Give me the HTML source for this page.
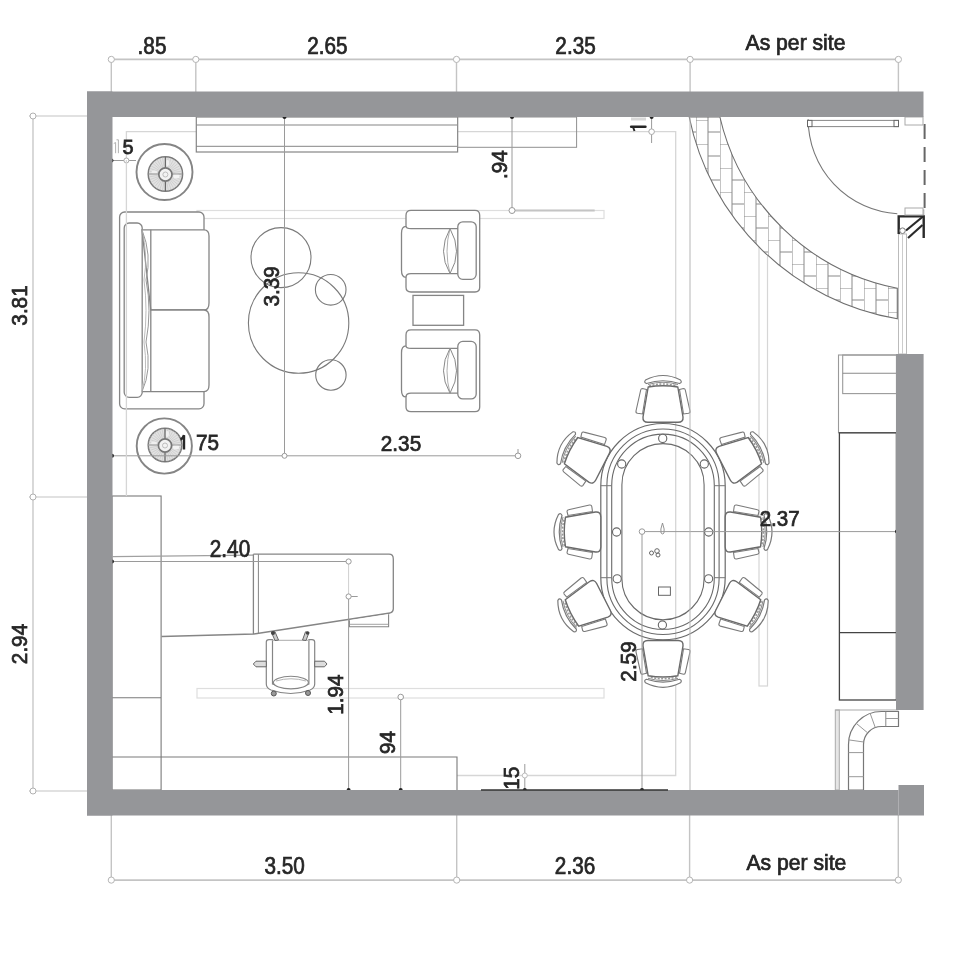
<!DOCTYPE html><html><head><meta charset="utf-8"><style>html,body{margin:0;padding:0;background:#fff;width:958px;height:958px;overflow:hidden}svg{display:block;font-family:"Liberation Sans",sans-serif;filter:blur(0.4px)}</style></head><body><svg width="958" height="958" viewBox="0 0 958 958"><g><rect x="197" y="210.5" width="407" height="8" fill="none" stroke="#dedede" stroke-width="1.2"/><rect x="197" y="688.5" width="407" height="9.5" fill="none" stroke="#dedede" stroke-width="1.2"/><polyline points="126.4,160 126.4,131.7 675.7,131.7 675.7,775.5 457,775.5" fill="none" stroke="#d6d6d6" stroke-width="1.3"/><rect x="759" y="240" width="8.5" height="446" fill="none" stroke="#d6d6d6" stroke-width="1.2"/></g><g><line x1="111.3" y1="59.4" x2="898.4" y2="59.4" stroke="#c4c4c4" stroke-width="1.6"/><line x1="111.3" y1="59.4" x2="111.3" y2="92" stroke="#c4c4c4" stroke-width="1.4"/><line x1="195.8" y1="59.4" x2="195.8" y2="92" stroke="#c4c4c4" stroke-width="1.4"/><line x1="456.5" y1="59.4" x2="456.5" y2="92" stroke="#c4c4c4" stroke-width="1.4"/><line x1="690.1" y1="59.4" x2="690.1" y2="92" stroke="#c4c4c4" stroke-width="1.4"/><line x1="898.4" y1="59.4" x2="898.4" y2="92" stroke="#c4c4c4" stroke-width="1.4"/><circle cx="111.3" cy="59.4" r="3.1" fill="#fff" stroke="#b4b4b4" stroke-width="1"/><circle cx="195.8" cy="59.4" r="3.1" fill="#fff" stroke="#b4b4b4" stroke-width="1"/><circle cx="456.5" cy="59.4" r="3.1" fill="#fff" stroke="#b4b4b4" stroke-width="1"/><circle cx="690.1" cy="59.4" r="3.1" fill="#fff" stroke="#b4b4b4" stroke-width="1"/><circle cx="898.4" cy="59.4" r="3.1" fill="#fff" stroke="#b4b4b4" stroke-width="1"/><line x1="111.3" y1="880.1" x2="898.3" y2="880.1" stroke="#c4c4c4" stroke-width="1.6"/><line x1="111.3" y1="815" x2="111.3" y2="880.1" stroke="#c4c4c4" stroke-width="1.4"/><line x1="456.7" y1="815" x2="456.7" y2="880.1" stroke="#c4c4c4" stroke-width="1.4"/><line x1="689.6" y1="815" x2="689.6" y2="880.1" stroke="#c4c4c4" stroke-width="1.4"/><line x1="898.3" y1="815" x2="898.3" y2="880.1" stroke="#c4c4c4" stroke-width="1.4"/><circle cx="111.3" cy="880.1" r="3.1" fill="#fff" stroke="#b4b4b4" stroke-width="1"/><circle cx="456.7" cy="880.1" r="3.1" fill="#fff" stroke="#b4b4b4" stroke-width="1"/><circle cx="689.6" cy="880.1" r="3.1" fill="#fff" stroke="#b4b4b4" stroke-width="1"/><circle cx="898.3" cy="880.1" r="3.1" fill="#fff" stroke="#b4b4b4" stroke-width="1"/><line x1="33" y1="116" x2="33" y2="792" stroke="#c4c4c4" stroke-width="1.3"/><line x1="29" y1="116" x2="88" y2="116" stroke="#c4c4c4" stroke-width="1.2"/><circle cx="33" cy="116" r="3" fill="#fff" stroke="#b0b0b0" stroke-width="1"/><line x1="29" y1="497" x2="88" y2="497" stroke="#c4c4c4" stroke-width="1.2"/><circle cx="33" cy="497" r="3" fill="#fff" stroke="#b0b0b0" stroke-width="1"/><line x1="29" y1="791" x2="88" y2="791" stroke="#c4c4c4" stroke-width="1.2"/><circle cx="33" cy="791" r="3" fill="#fff" stroke="#b0b0b0" stroke-width="1"/></g><g><rect x="196.3" y="117" width="261.3" height="35" fill="#fff" stroke="#858585" stroke-width="1.2"/><line x1="196.3" y1="125" x2="457.6" y2="125" stroke="#858585" stroke-width="1"/><line x1="196.3" y1="146.3" x2="457.6" y2="146.3" stroke="#858585" stroke-width="1"/><rect x="457.6" y="117" width="119" height="30.3" fill="none" stroke="#909090" stroke-width="1"/><circle cx="164.5" cy="172" r="28" fill="#fff" stroke="#858585" stroke-width="1.9"/><circle cx="165.4" cy="174" r="17.2" fill="#e2e2e2" stroke="#7a7a7a" stroke-width="1.5"/><line x1="172.9" y1="174.0" x2="181.9" y2="174.0" stroke="#c8c8c8" stroke-width="0.7"/><line x1="172.8" y1="175.3" x2="181.6" y2="176.9" stroke="#c8c8c8" stroke-width="0.7"/><line x1="172.4" y1="176.6" x2="180.9" y2="179.6" stroke="#c8c8c8" stroke-width="0.7"/><line x1="171.9" y1="177.8" x2="179.7" y2="182.2" stroke="#c8c8c8" stroke-width="0.7"/><line x1="171.1" y1="178.8" x2="178.0" y2="184.6" stroke="#c8c8c8" stroke-width="0.7"/><line x1="170.2" y1="179.7" x2="176.0" y2="186.6" stroke="#c8c8c8" stroke-width="0.7"/><line x1="169.2" y1="180.5" x2="173.7" y2="188.3" stroke="#c8c8c8" stroke-width="0.7"/><line x1="168.0" y1="181.0" x2="171.0" y2="189.5" stroke="#c8c8c8" stroke-width="0.7"/><line x1="166.7" y1="181.4" x2="168.3" y2="190.2" stroke="#c8c8c8" stroke-width="0.7"/><line x1="165.4" y1="181.5" x2="165.4" y2="190.5" stroke="#c8c8c8" stroke-width="0.7"/><line x1="164.1" y1="181.4" x2="162.5" y2="190.2" stroke="#c8c8c8" stroke-width="0.7"/><line x1="162.8" y1="181.0" x2="159.8" y2="189.5" stroke="#c8c8c8" stroke-width="0.7"/><line x1="161.7" y1="180.5" x2="157.2" y2="188.3" stroke="#c8c8c8" stroke-width="0.7"/><line x1="160.6" y1="179.7" x2="154.8" y2="186.6" stroke="#c8c8c8" stroke-width="0.7"/><line x1="159.7" y1="178.8" x2="152.8" y2="184.6" stroke="#c8c8c8" stroke-width="0.7"/><line x1="158.9" y1="177.8" x2="151.1" y2="182.2" stroke="#c8c8c8" stroke-width="0.7"/><line x1="158.4" y1="176.6" x2="149.9" y2="179.6" stroke="#c8c8c8" stroke-width="0.7"/><line x1="158.0" y1="175.3" x2="149.2" y2="176.9" stroke="#c8c8c8" stroke-width="0.7"/><line x1="157.9" y1="174.0" x2="148.9" y2="174.0" stroke="#c8c8c8" stroke-width="0.7"/><line x1="158.0" y1="172.7" x2="149.2" y2="171.1" stroke="#c8c8c8" stroke-width="0.7"/><line x1="158.4" y1="171.4" x2="149.9" y2="168.4" stroke="#c8c8c8" stroke-width="0.7"/><line x1="158.9" y1="170.2" x2="151.1" y2="165.8" stroke="#c8c8c8" stroke-width="0.7"/><line x1="159.7" y1="169.2" x2="152.8" y2="163.4" stroke="#c8c8c8" stroke-width="0.7"/><line x1="160.6" y1="168.3" x2="154.8" y2="161.4" stroke="#c8c8c8" stroke-width="0.7"/><line x1="161.7" y1="167.5" x2="157.2" y2="159.7" stroke="#c8c8c8" stroke-width="0.7"/><line x1="162.8" y1="167.0" x2="159.8" y2="158.5" stroke="#c8c8c8" stroke-width="0.7"/><line x1="164.1" y1="166.6" x2="162.5" y2="157.8" stroke="#c8c8c8" stroke-width="0.7"/><line x1="165.4" y1="166.5" x2="165.4" y2="157.5" stroke="#c8c8c8" stroke-width="0.7"/><line x1="166.7" y1="166.6" x2="168.3" y2="157.8" stroke="#c8c8c8" stroke-width="0.7"/><line x1="168.0" y1="167.0" x2="171.0" y2="158.5" stroke="#c8c8c8" stroke-width="0.7"/><line x1="169.2" y1="167.5" x2="173.7" y2="159.7" stroke="#c8c8c8" stroke-width="0.7"/><line x1="170.2" y1="168.3" x2="176.0" y2="161.4" stroke="#c8c8c8" stroke-width="0.7"/><line x1="171.1" y1="169.2" x2="178.0" y2="163.4" stroke="#c8c8c8" stroke-width="0.7"/><line x1="171.9" y1="170.2" x2="179.7" y2="165.8" stroke="#c8c8c8" stroke-width="0.7"/><line x1="172.4" y1="171.4" x2="180.9" y2="168.4" stroke="#c8c8c8" stroke-width="0.7"/><line x1="172.8" y1="172.7" x2="181.6" y2="171.1" stroke="#c8c8c8" stroke-width="0.7"/><ellipse cx="176.4" cy="176" rx="3.2" ry="2.5" fill="#f4f4f4"/><ellipse cx="167.4" cy="163" rx="2" ry="3" fill="#f0f0f0"/><ellipse cx="154.4" cy="172" rx="3" ry="1.6" fill="#efefef"/><line x1="165.4" y1="157" x2="165.4" y2="191" stroke="#6a6a6a" stroke-width="1.3"/><line x1="148.4" y1="174" x2="182.4" y2="174" stroke="#999" stroke-width="1"/><circle cx="165.4" cy="174.5" r="6.6" fill="#f2f2f2" stroke="#777" stroke-width="1.7"/><circle cx="165.4" cy="174.5" r="2.5" fill="none" stroke="#b0b0b0" stroke-width="0.8"/><circle cx="164.3" cy="446" r="27.6" fill="#fff" stroke="#858585" stroke-width="1.9"/><circle cx="165" cy="445" r="16.8" fill="#e2e2e2" stroke="#7a7a7a" stroke-width="1.5"/><line x1="172.5" y1="445.0" x2="181.5" y2="445.0" stroke="#c8c8c8" stroke-width="0.7"/><line x1="172.4" y1="446.3" x2="181.2" y2="447.9" stroke="#c8c8c8" stroke-width="0.7"/><line x1="172.0" y1="447.6" x2="180.5" y2="450.6" stroke="#c8c8c8" stroke-width="0.7"/><line x1="171.5" y1="448.8" x2="179.3" y2="453.2" stroke="#c8c8c8" stroke-width="0.7"/><line x1="170.7" y1="449.8" x2="177.6" y2="455.6" stroke="#c8c8c8" stroke-width="0.7"/><line x1="169.8" y1="450.7" x2="175.6" y2="457.6" stroke="#c8c8c8" stroke-width="0.7"/><line x1="168.8" y1="451.5" x2="173.2" y2="459.3" stroke="#c8c8c8" stroke-width="0.7"/><line x1="167.6" y1="452.0" x2="170.6" y2="460.5" stroke="#c8c8c8" stroke-width="0.7"/><line x1="166.3" y1="452.4" x2="167.9" y2="461.2" stroke="#c8c8c8" stroke-width="0.7"/><line x1="165.0" y1="452.5" x2="165.0" y2="461.5" stroke="#c8c8c8" stroke-width="0.7"/><line x1="163.7" y1="452.4" x2="162.1" y2="461.2" stroke="#c8c8c8" stroke-width="0.7"/><line x1="162.4" y1="452.0" x2="159.4" y2="460.5" stroke="#c8c8c8" stroke-width="0.7"/><line x1="161.2" y1="451.5" x2="156.8" y2="459.3" stroke="#c8c8c8" stroke-width="0.7"/><line x1="160.2" y1="450.7" x2="154.4" y2="457.6" stroke="#c8c8c8" stroke-width="0.7"/><line x1="159.3" y1="449.8" x2="152.4" y2="455.6" stroke="#c8c8c8" stroke-width="0.7"/><line x1="158.5" y1="448.8" x2="150.7" y2="453.2" stroke="#c8c8c8" stroke-width="0.7"/><line x1="158.0" y1="447.6" x2="149.5" y2="450.6" stroke="#c8c8c8" stroke-width="0.7"/><line x1="157.6" y1="446.3" x2="148.8" y2="447.9" stroke="#c8c8c8" stroke-width="0.7"/><line x1="157.5" y1="445.0" x2="148.5" y2="445.0" stroke="#c8c8c8" stroke-width="0.7"/><line x1="157.6" y1="443.7" x2="148.8" y2="442.1" stroke="#c8c8c8" stroke-width="0.7"/><line x1="158.0" y1="442.4" x2="149.5" y2="439.4" stroke="#c8c8c8" stroke-width="0.7"/><line x1="158.5" y1="441.2" x2="150.7" y2="436.8" stroke="#c8c8c8" stroke-width="0.7"/><line x1="159.3" y1="440.2" x2="152.4" y2="434.4" stroke="#c8c8c8" stroke-width="0.7"/><line x1="160.2" y1="439.3" x2="154.4" y2="432.4" stroke="#c8c8c8" stroke-width="0.7"/><line x1="161.2" y1="438.5" x2="156.8" y2="430.7" stroke="#c8c8c8" stroke-width="0.7"/><line x1="162.4" y1="438.0" x2="159.4" y2="429.5" stroke="#c8c8c8" stroke-width="0.7"/><line x1="163.7" y1="437.6" x2="162.1" y2="428.8" stroke="#c8c8c8" stroke-width="0.7"/><line x1="165.0" y1="437.5" x2="165.0" y2="428.5" stroke="#c8c8c8" stroke-width="0.7"/><line x1="166.3" y1="437.6" x2="167.9" y2="428.8" stroke="#c8c8c8" stroke-width="0.7"/><line x1="167.6" y1="438.0" x2="170.6" y2="429.5" stroke="#c8c8c8" stroke-width="0.7"/><line x1="168.8" y1="438.5" x2="173.2" y2="430.7" stroke="#c8c8c8" stroke-width="0.7"/><line x1="169.8" y1="439.3" x2="175.6" y2="432.4" stroke="#c8c8c8" stroke-width="0.7"/><line x1="170.7" y1="440.2" x2="177.6" y2="434.4" stroke="#c8c8c8" stroke-width="0.7"/><line x1="171.5" y1="441.2" x2="179.3" y2="436.8" stroke="#c8c8c8" stroke-width="0.7"/><line x1="172.0" y1="442.4" x2="180.5" y2="439.4" stroke="#c8c8c8" stroke-width="0.7"/><line x1="172.4" y1="443.7" x2="181.2" y2="442.1" stroke="#c8c8c8" stroke-width="0.7"/><ellipse cx="176" cy="447" rx="3.2" ry="2.5" fill="#f4f4f4"/><ellipse cx="167" cy="434" rx="2" ry="3" fill="#f0f0f0"/><ellipse cx="154" cy="443" rx="3" ry="1.6" fill="#efefef"/><line x1="165" y1="428" x2="165" y2="462" stroke="#6a6a6a" stroke-width="1.3"/><line x1="148" y1="445" x2="182" y2="445" stroke="#999" stroke-width="1"/><circle cx="165" cy="445.5" r="6.6" fill="#f2f2f2" stroke="#777" stroke-width="1.7"/><circle cx="165" cy="445.5" r="2.5" fill="none" stroke="#b0b0b0" stroke-width="0.8"/><rect x="119.6" y="212" width="84.4" height="196.8" rx="5" fill="#fff" stroke="#858585" stroke-width="1.3"/><rect x="124.2" y="223" width="18" height="174.3" rx="5" fill="#fff" stroke="#858585" stroke-width="1.3"/><path d="M142,229.8 L204,229.8 Q209,229.8 209,236 L209,303 Q209,310 204,310 L150.8,310 Z" fill="#fff" stroke="#858585" stroke-width="1.3"/><path d="M150.8,310 L204,310 Q209,310 209,317 L209,385 Q209,391.6 204,391.6 L142,391.6" fill="#fff" stroke="#858585" stroke-width="1.3"/><line x1="150.8" y1="229.8" x2="150.8" y2="391.6" stroke="#858585" stroke-width="1.3"/><path d="M142,229.8 Q152,255 146,280 Q152,310 146,342 Q152,370 142,391.6" fill="none" stroke="#999" stroke-width="1"/><path d="M142,229.8 Q148,255 144,280 Q148,310 144,342 Q148,370 142,391.6" fill="none" stroke="#aaa" stroke-width="0.8"/><circle cx="281" cy="257.6" r="30" fill="none" stroke="#7a7a7a" stroke-width="1.1"/><circle cx="298.6" cy="323" r="50.2" fill="none" stroke="#7a7a7a" stroke-width="1.1"/><circle cx="330.7" cy="289.8" r="15.3" fill="none" stroke="#7a7a7a" stroke-width="1.1"/><circle cx="330.9" cy="375" r="15.2" fill="none" stroke="#7a7a7a" stroke-width="1.1"/><path d="M406,215.3 Q406,210.3 411,210.3 L475,210.3 Q479.7,210.3 479.7,215.3 L479.7,287.3 Q479.7,292.0 475,292.0 L411,292.0 Q406,292.0 406,287.3 L406,277.3 Q401.5,277.3 401.5,270.3 L401.5,233.3 Q401.5,226.3 406,226.3 Z" fill="#fff" stroke="#858585" stroke-width="1.3"/><path d="M406,226.3 Q406,228.70000000000002 411,228.70000000000002 L458,228.70000000000002" fill="none" stroke="#858585" stroke-width="1.3"/><path d="M406,277.3 Q406,273.6 411,273.6 L458,273.6" fill="none" stroke="#858585" stroke-width="1.3"/><rect x="457.8" y="221.8" width="18.4" height="57.5" rx="5" fill="#fff" stroke="#858585" stroke-width="1.3"/><path d="M450,228.70000000000002 Q437,251.3 450,273.6 Q463,251.3 450,228.70000000000002 Z" fill="none" stroke="#888" stroke-width="1"/><path d="M450,228.70000000000002 Q444,251.3 450,273.6" fill="none" stroke="#999" stroke-width="0.8"/><path d="M406,334.9 Q406,329.9 411,329.9 L475,329.9 Q479.7,329.9 479.7,334.9 L479.7,406.9 Q479.7,411.59999999999997 475,411.59999999999997 L411,411.59999999999997 Q406,411.59999999999997 406,406.9 L406,396.9 Q401.5,396.9 401.5,389.9 L401.5,352.9 Q401.5,345.9 406,345.9 Z" fill="#fff" stroke="#858585" stroke-width="1.3"/><path d="M406,345.9 Q406,348.29999999999995 411,348.29999999999995 L458,348.29999999999995" fill="none" stroke="#858585" stroke-width="1.3"/><path d="M406,396.9 Q406,393.2 411,393.2 L458,393.2" fill="none" stroke="#858585" stroke-width="1.3"/><rect x="457.8" y="341.4" width="18.4" height="57.5" rx="5" fill="#fff" stroke="#858585" stroke-width="1.3"/><path d="M450,348.29999999999995 Q437,370.9 450,393.2 Q463,370.9 450,348.29999999999995 Z" fill="none" stroke="#888" stroke-width="1"/><path d="M450,348.29999999999995 Q444,370.9 450,393.2" fill="none" stroke="#999" stroke-width="0.8"/><rect x="413" y="295.4" width="50.6" height="29.9" fill="#fff" stroke="#858585" stroke-width="1.3"/></g><g><rect x="112" y="496" width="49.1" height="294" fill="none" stroke="#7a7a7a" stroke-width="1.1"/><line x1="112" y1="697.8" x2="161" y2="697.8" stroke="#7a7a7a" stroke-width="1.1"/><polyline points="112,757 457,757 457,790" fill="none" stroke="#7a7a7a" stroke-width="1.1"/><path d="M253.4,554.2 L389,554.2 Q393.3,554.2 393.3,559 L393.3,609 Q393.3,612 390,613 L254,634 L161.5,636.5" fill="none" stroke="#858585" stroke-width="1.3"/><line x1="112.5" y1="556.7" x2="253.4" y2="555.2" stroke="#a0a0a0" stroke-width="1.3"/><line x1="253.4" y1="554.2" x2="253.4" y2="634" stroke="#858585" stroke-width="1.3"/><line x1="258.4" y1="554.2" x2="258.4" y2="634" stroke="#858585" stroke-width="1"/><path d="M349.4,620.2 L349.4,626.8 L388.6,626.8 L388.6,614.3" fill="#fff" stroke="#858585" stroke-width="1.1"/><line x1="349.4" y1="624.3" x2="388.6" y2="624.3" stroke="#999" stroke-width="0.9"/><path d="M266.3,642 Q266.3,639.6 269,639.6 L272.5,639.6 L272.5,684 Q290.9,692 308.9,684 L308.9,639.6 L312,639.6 Q314.7,639.6 314.7,642 L314.7,684 Q314.7,688 310,690 Q290.9,697 271,690 Q266.3,688 266.3,684 Z" fill="#fff" stroke="#858585" stroke-width="1.2"/><line x1="272.5" y1="640.3" x2="308.9" y2="640.3" stroke="#bbb" stroke-width="1.2"/><ellipse cx="290.9" cy="682.6" rx="17.5" ry="6.3" fill="#fff" stroke="#858585" stroke-width="1.1"/><path d="M276,681 Q290.9,676.5 306,681" fill="none" stroke="#aaa" stroke-width="0.9"/><path d="M271.5,632.5 L275,631.8 L278.5,640 L275,640.5 Z" fill="#ccc" stroke="#666" stroke-width="1"/><circle cx="273" cy="633" r="2" fill="#444"/><path d="M309,632.5 L305.5,631.8 L302.5,640 L306,640.5 Z" fill="#ccc" stroke="#666" stroke-width="1"/><circle cx="307.6" cy="633" r="1.8" fill="#444"/><path d="M266.3,661.2 L256,661.2 L253.3,664 L256,666.8 L266.3,666.8 Z" fill="#ddd" stroke="#666" stroke-width="1"/><path d="M314.7,661.2 L324.5,661.2 L327,664 L324.5,666.8 L314.7,666.8 Z" fill="#ddd" stroke="#666" stroke-width="1"/><circle cx="273.8" cy="693.5" r="2.5" fill="#999" stroke="#555" stroke-width="1"/><circle cx="308" cy="693" r="2.5" fill="#999" stroke="#555" stroke-width="1"/></g><g><path d="M600.8,485.70000000000005 A62.2,62.2 0 0 1 725.2,485.70000000000005 L725.2,577.7 A62.2,62.2 0 0 1 600.8,577.7 Z" fill="none" stroke="#6a6a6a" stroke-width="1.2"/><path d="M606.9,485.00000000000006 A56.1,56.1 0 0 1 719.1,485.00000000000006 L719.1,578.4 A56.1,56.1 0 0 1 606.9,578.4 Z" fill="none" stroke="#6a6a6a" stroke-width="1.1"/><path d="M611.7,485.40000000000003 A51.3,51.3 0 0 1 714.3,485.40000000000003 L714.3,578.0000000000001 A51.3,51.3 0 0 1 611.7,578.0000000000001 Z" fill="none" stroke="#6a6a6a" stroke-width="1.1"/><path d="M621.9,484.70000000000005 A41.1,41.1 0 0 1 704.1,484.70000000000005 L704.1,578.7 A41.1,41.1 0 0 1 621.9,578.7 Z" fill="none" stroke="#6a6a6a" stroke-width="1.1"/><line x1="600.8" y1="485.7" x2="611.5" y2="485.7" stroke="#777" stroke-width="1"/><line x1="714.1" y1="485.7" x2="725.2" y2="485.7" stroke="#777" stroke-width="1"/><line x1="600.8" y1="577.7" x2="611.5" y2="577.7" stroke="#777" stroke-width="1"/><line x1="714.1" y1="577.7" x2="725.2" y2="577.7" stroke="#777" stroke-width="1"/><circle cx="662.7" cy="438.4" r="4.1" fill="#fff" stroke="#666" stroke-width="1.1"/><circle cx="621.7" cy="464" r="4.1" fill="#fff" stroke="#666" stroke-width="1.1"/><circle cx="704.3" cy="464" r="4.1" fill="#fff" stroke="#666" stroke-width="1.1"/><circle cx="616.6" cy="532" r="4.1" fill="#fff" stroke="#666" stroke-width="1.1"/><circle cx="708.7" cy="532" r="4.1" fill="#fff" stroke="#666" stroke-width="1.1"/><circle cx="617.2" cy="578.8" r="4.1" fill="#fff" stroke="#666" stroke-width="1.1"/><circle cx="708.6" cy="578.8" r="4.1" fill="#fff" stroke="#666" stroke-width="1.1"/><circle cx="662.4" cy="625" r="4.1" fill="#fff" stroke="#666" stroke-width="1.1"/><path d="M662.5,523 Q660,530 661,533 Q663,535 664,533 Q665,530 662.5,523 Z" fill="none" stroke="#888" stroke-width="0.9"/><circle cx="651.5" cy="553" r="2" fill="none" stroke="#666" stroke-width="1"/><circle cx="657" cy="551" r="2.3" fill="none" stroke="#666" stroke-width="1"/><circle cx="658" cy="555" r="2" fill="none" stroke="#666" stroke-width="1"/><rect x="658.5" y="587" width="11.9" height="8.3" fill="none" stroke="#666" stroke-width="1"/><g transform="translate(663,399) rotate(0)"><path d="M-17.5,-19 Q0,-28 17.5,-19 Q19.5,-16.5 16.5,-15.5 Q0,-21 -16.5,-15.5 Q-19.5,-16.5 -17.5,-19 Z" fill="#fff" stroke="#7a7a7a" stroke-width="1.2"/><path d="M-15,-14.5 Q0,-19 15,-14.5" fill="none" stroke="#8a8a8a" stroke-width="1"/><path d="M-14,-13 Q0,-17 14,-13" fill="none" stroke="#999" stroke-width="1.6" stroke-dasharray="2,1.5"/><path d="M-14.8,-12 Q0,-14.5 14.8,-12 L20,18 Q20.5,23.3 15,23.3 L-15,23.3 Q-20.5,23.3 -20,18 Z" fill="#fff" stroke="#6a6a6a" stroke-width="1.4"/><path d="M-16.5,-9.5 L-20.5,-10.5 Q-22,-10.5 -22.3,-9 L-27,12 Q-27.3,14 -25.5,14.3 L-20.5,15 Z" fill="#fff" stroke="#7a7a7a" stroke-width="1.1"/><path d="M16.5,-9.5 L20.5,-10.5 Q22,-10.5 22.3,-9 L27,12 Q27.3,14 25.5,14.3 L20.5,15 Z" fill="#fff" stroke="#7a7a7a" stroke-width="1.1"/></g><g transform="translate(663,663.8) rotate(180)"><path d="M-17.5,-19 Q0,-28 17.5,-19 Q19.5,-16.5 16.5,-15.5 Q0,-21 -16.5,-15.5 Q-19.5,-16.5 -17.5,-19 Z" fill="#fff" stroke="#7a7a7a" stroke-width="1.2"/><path d="M-15,-14.5 Q0,-19 15,-14.5" fill="none" stroke="#8a8a8a" stroke-width="1"/><path d="M-14,-13 Q0,-17 14,-13" fill="none" stroke="#999" stroke-width="1.6" stroke-dasharray="2,1.5"/><path d="M-14.8,-12 Q0,-14.5 14.8,-12 L20,18 Q20.5,23.3 15,23.3 L-15,23.3 Q-20.5,23.3 -20,18 Z" fill="#fff" stroke="#6a6a6a" stroke-width="1.4"/><path d="M-16.5,-9.5 L-20.5,-10.5 Q-22,-10.5 -22.3,-9 L-27,12 Q-27.3,14 -25.5,14.3 L-20.5,15 Z" fill="#fff" stroke="#7a7a7a" stroke-width="1.1"/><path d="M16.5,-9.5 L20.5,-10.5 Q22,-10.5 22.3,-9 L27,12 Q27.3,14 25.5,14.3 L20.5,15 Z" fill="#fff" stroke="#7a7a7a" stroke-width="1.1"/></g><g transform="translate(577.5,532) rotate(-90)"><path d="M-17.5,-19 Q0,-28 17.5,-19 Q19.5,-16.5 16.5,-15.5 Q0,-21 -16.5,-15.5 Q-19.5,-16.5 -17.5,-19 Z" fill="#fff" stroke="#7a7a7a" stroke-width="1.2"/><path d="M-15,-14.5 Q0,-19 15,-14.5" fill="none" stroke="#8a8a8a" stroke-width="1"/><path d="M-14,-13 Q0,-17 14,-13" fill="none" stroke="#999" stroke-width="1.6" stroke-dasharray="2,1.5"/><path d="M-14.8,-12 Q0,-14.5 14.8,-12 L20,18 Q20.5,23.3 15,23.3 L-15,23.3 Q-20.5,23.3 -20,18 Z" fill="#fff" stroke="#6a6a6a" stroke-width="1.4"/><path d="M-16.5,-9.5 L-20.5,-10.5 Q-22,-10.5 -22.3,-9 L-27,12 Q-27.3,14 -25.5,14.3 L-20.5,15 Z" fill="#fff" stroke="#7a7a7a" stroke-width="1.1"/><path d="M16.5,-9.5 L20.5,-10.5 Q22,-10.5 22.3,-9 L27,12 Q27.3,14 25.5,14.3 L20.5,15 Z" fill="#fff" stroke="#7a7a7a" stroke-width="1.1"/></g><g transform="translate(748.5,532) rotate(90)"><path d="M-17.5,-19 Q0,-28 17.5,-19 Q19.5,-16.5 16.5,-15.5 Q0,-21 -16.5,-15.5 Q-19.5,-16.5 -17.5,-19 Z" fill="#fff" stroke="#7a7a7a" stroke-width="1.2"/><path d="M-15,-14.5 Q0,-19 15,-14.5" fill="none" stroke="#8a8a8a" stroke-width="1"/><path d="M-14,-13 Q0,-17 14,-13" fill="none" stroke="#999" stroke-width="1.6" stroke-dasharray="2,1.5"/><path d="M-14.8,-12 Q0,-14.5 14.8,-12 L20,18 Q20.5,23.3 15,23.3 L-15,23.3 Q-20.5,23.3 -20,18 Z" fill="#fff" stroke="#6a6a6a" stroke-width="1.4"/><path d="M-16.5,-9.5 L-20.5,-10.5 Q-22,-10.5 -22.3,-9 L-27,12 Q-27.3,14 -25.5,14.3 L-20.5,15 Z" fill="#fff" stroke="#7a7a7a" stroke-width="1.1"/><path d="M16.5,-9.5 L20.5,-10.5 Q22,-10.5 22.3,-9 L27,12 Q27.3,14 25.5,14.3 L20.5,15 Z" fill="#fff" stroke="#7a7a7a" stroke-width="1.1"/></g><g transform="translate(581.8,456.1) rotate(-63)"><path d="M-17.5,-19 Q0,-28 17.5,-19 Q19.5,-16.5 16.5,-15.5 Q0,-21 -16.5,-15.5 Q-19.5,-16.5 -17.5,-19 Z" fill="#fff" stroke="#7a7a7a" stroke-width="1.2"/><path d="M-15,-14.5 Q0,-19 15,-14.5" fill="none" stroke="#8a8a8a" stroke-width="1"/><path d="M-14,-13 Q0,-17 14,-13" fill="none" stroke="#999" stroke-width="1.6" stroke-dasharray="2,1.5"/><path d="M-14.8,-12 Q0,-14.5 14.8,-12 L20,18 Q20.5,23.3 15,23.3 L-15,23.3 Q-20.5,23.3 -20,18 Z" fill="#fff" stroke="#6a6a6a" stroke-width="1.4"/><path d="M-16.5,-9.5 L-20.5,-10.5 Q-22,-10.5 -22.3,-9 L-27,12 Q-27.3,14 -25.5,14.3 L-20.5,15 Z" fill="#fff" stroke="#7a7a7a" stroke-width="1.1"/><path d="M16.5,-9.5 L20.5,-10.5 Q22,-10.5 22.3,-9 L27,12 Q27.3,14 25.5,14.3 L20.5,15 Z" fill="#fff" stroke="#7a7a7a" stroke-width="1.1"/></g><g transform="translate(744.2,456.1) rotate(63)"><path d="M-17.5,-19 Q0,-28 17.5,-19 Q19.5,-16.5 16.5,-15.5 Q0,-21 -16.5,-15.5 Q-19.5,-16.5 -17.5,-19 Z" fill="#fff" stroke="#7a7a7a" stroke-width="1.2"/><path d="M-15,-14.5 Q0,-19 15,-14.5" fill="none" stroke="#8a8a8a" stroke-width="1"/><path d="M-14,-13 Q0,-17 14,-13" fill="none" stroke="#999" stroke-width="1.6" stroke-dasharray="2,1.5"/><path d="M-14.8,-12 Q0,-14.5 14.8,-12 L20,18 Q20.5,23.3 15,23.3 L-15,23.3 Q-20.5,23.3 -20,18 Z" fill="#fff" stroke="#6a6a6a" stroke-width="1.4"/><path d="M-16.5,-9.5 L-20.5,-10.5 Q-22,-10.5 -22.3,-9 L-27,12 Q-27.3,14 -25.5,14.3 L-20.5,15 Z" fill="#fff" stroke="#7a7a7a" stroke-width="1.1"/><path d="M16.5,-9.5 L20.5,-10.5 Q22,-10.5 22.3,-9 L27,12 Q27.3,14 25.5,14.3 L20.5,15 Z" fill="#fff" stroke="#7a7a7a" stroke-width="1.1"/></g><g transform="translate(582.7,607.5) rotate(-117)"><path d="M-17.5,-19 Q0,-28 17.5,-19 Q19.5,-16.5 16.5,-15.5 Q0,-21 -16.5,-15.5 Q-19.5,-16.5 -17.5,-19 Z" fill="#fff" stroke="#7a7a7a" stroke-width="1.2"/><path d="M-15,-14.5 Q0,-19 15,-14.5" fill="none" stroke="#8a8a8a" stroke-width="1"/><path d="M-14,-13 Q0,-17 14,-13" fill="none" stroke="#999" stroke-width="1.6" stroke-dasharray="2,1.5"/><path d="M-14.8,-12 Q0,-14.5 14.8,-12 L20,18 Q20.5,23.3 15,23.3 L-15,23.3 Q-20.5,23.3 -20,18 Z" fill="#fff" stroke="#6a6a6a" stroke-width="1.4"/><path d="M-16.5,-9.5 L-20.5,-10.5 Q-22,-10.5 -22.3,-9 L-27,12 Q-27.3,14 -25.5,14.3 L-20.5,15 Z" fill="#fff" stroke="#7a7a7a" stroke-width="1.1"/><path d="M16.5,-9.5 L20.5,-10.5 Q22,-10.5 22.3,-9 L27,12 Q27.3,14 25.5,14.3 L20.5,15 Z" fill="#fff" stroke="#7a7a7a" stroke-width="1.1"/></g><g transform="translate(743.3,607.5) rotate(117)"><path d="M-17.5,-19 Q0,-28 17.5,-19 Q19.5,-16.5 16.5,-15.5 Q0,-21 -16.5,-15.5 Q-19.5,-16.5 -17.5,-19 Z" fill="#fff" stroke="#7a7a7a" stroke-width="1.2"/><path d="M-15,-14.5 Q0,-19 15,-14.5" fill="none" stroke="#8a8a8a" stroke-width="1"/><path d="M-14,-13 Q0,-17 14,-13" fill="none" stroke="#999" stroke-width="1.6" stroke-dasharray="2,1.5"/><path d="M-14.8,-12 Q0,-14.5 14.8,-12 L20,18 Q20.5,23.3 15,23.3 L-15,23.3 Q-20.5,23.3 -20,18 Z" fill="#fff" stroke="#6a6a6a" stroke-width="1.4"/><path d="M-16.5,-9.5 L-20.5,-10.5 Q-22,-10.5 -22.3,-9 L-27,12 Q-27.3,14 -25.5,14.3 L-20.5,15 Z" fill="#fff" stroke="#7a7a7a" stroke-width="1.1"/><path d="M16.5,-9.5 L20.5,-10.5 Q22,-10.5 22.3,-9 L27,12 Q27.3,14 25.5,14.3 L20.5,15 Z" fill="#fff" stroke="#7a7a7a" stroke-width="1.1"/></g></g><g><rect x="838.5" y="355" width="58" height="77.8" fill="none" stroke="#9a9a9a" stroke-width="1.1"/><rect x="842.7" y="355" width="53.8" height="38.6" fill="none" stroke="#9a9a9a" stroke-width="1.1"/><line x1="842.7" y1="373.2" x2="896.5" y2="373.2" stroke="#8a8a8a" stroke-width="1.1"/><rect x="839.4" y="432.8" width="57" height="267.2" fill="none" stroke="#444" stroke-width="1.3"/><line x1="839.4" y1="632.7" x2="896.5" y2="632.7" stroke="#444" stroke-width="1.3"/><rect x="835.3" y="710" width="4" height="80" fill="#e6e6e6" stroke="#aaa" stroke-width="1"/><line x1="835.3" y1="710" x2="898.5" y2="710" stroke="#aaa" stroke-width="1.1"/><rect x="898.5" y="234" width="8" height="120" fill="#fff" stroke="#bbb" stroke-width="1"/><line x1="902.5" y1="234" x2="902.5" y2="354" stroke="#ccc" stroke-width="1"/></g><g><defs><pattern id="brick" x="0" y="0" width="24" height="24" patternUnits="userSpaceOnUse"><rect width="24" height="24" fill="#fff"/><path d="M0,0 V24 M12,0 V24 M0,0 H12 M12,12 H24" stroke="#8a8a8a" stroke-width="1"/></pattern><pattern id="brick2" x="0" y="0" width="12" height="24" patternUnits="userSpaceOnUse"><rect width="12" height="24" fill="#fff"/><path d="M0,0 V24 M0,0 H12 M0,12 H12" stroke="#8a8a8a" stroke-width="1"/></pattern></defs><path d="M689.2,117 A257,257 0 0 0 897.3,318.8 L897.3,288.3 A227,227 0 0 1 719.9,117 Z" fill="url(#brick)" stroke="#6e6e6e" stroke-width="1.1"/><path d="M808.2,119.2 A94.5,94.5 0 0 0 897.3,213.7" fill="none" stroke="#777" stroke-width="1.1"/><rect x="807.5" y="120.4" width="91" height="6.2" fill="#fff" stroke="#888" stroke-width="1"/><rect x="807.5" y="120.4" width="4.5" height="6.2" fill="#fff" stroke="#666" stroke-width="1"/><rect x="894" y="120.4" width="4.5" height="6.2" fill="#fff" stroke="#666" stroke-width="1"/><line x1="924.6" y1="124" x2="924.6" y2="214" stroke="#666" stroke-width="2" stroke-dasharray="15,8"/><rect x="906.3" y="210" width="17.5" height="5" fill="#fff" stroke="#aaa" stroke-width="1"/><path d="M898.7,234 L898.7,216.4 L923.7,216.4 L923.7,238" fill="none" stroke="#2a2a2a" stroke-width="2.4"/><line x1="906" y1="230.5" x2="923" y2="216.5" stroke="#2a2a2a" stroke-width="2.2"/><line x1="908" y1="238" x2="922.5" y2="225" stroke="#2a2a2a" stroke-width="2.2"/><circle cx="902.5" cy="230.7" r="2.8" fill="#fff" stroke="#777" stroke-width="1"/><rect x="905" y="117" width="18" height="8" fill="#fff" stroke="#aaa" stroke-width="1"/><rect x="905" y="208" width="18" height="7" fill="#fff" stroke="#aaa" stroke-width="1"/><path d="M848.5,790 L848.5,744.5 A33,33 0 0 1 881.5,711.5 L898.5,711.5 L898.5,726.5 L881.5,726.5 A18,18 0 0 0 863.5,744.5 L863.5,790 Z" fill="#fff" stroke="#777" stroke-width="1.2"/><line x1="848.5" y1="752.6" x2="863.5" y2="752.6" stroke="#999" stroke-width="1"/><line x1="848.5" y1="776.7" x2="863.5" y2="776.7" stroke="#999" stroke-width="1"/><line x1="885.8" y1="711.5" x2="885.8" y2="726.5" stroke="#888" stroke-width="1"/><line x1="885.8" y1="718.5" x2="898.5" y2="718.5" stroke="#999" stroke-width="1"/><line x1="875.3" y1="727.6" x2="870.2" y2="713.5" stroke="#999" stroke-width="1"/><line x1="867.7" y1="732.9" x2="856.2" y2="723.3" stroke="#999" stroke-width="1"/><line x1="863.7" y1="742.0" x2="848.8" y2="739.9" stroke="#999" stroke-width="1"/></g><g><line x1="284.5" y1="117" x2="284.5" y2="455.8" stroke="#9a9a9a" stroke-width="1"/><line x1="112" y1="455.8" x2="518" y2="455.8" stroke="#9a9a9a" stroke-width="1"/><line x1="518" y1="449" x2="518" y2="455.8" stroke="#9a9a9a" stroke-width="1"/><circle cx="518" cy="455.8" r="2.8" fill="#fff" stroke="#999" stroke-width="1"/><circle cx="284.5" cy="455.8" r="2.5" fill="#fff" stroke="#999" stroke-width="1"/><line x1="512" y1="117" x2="512" y2="210.5" stroke="#9a9a9a" stroke-width="1"/><line x1="512" y1="210.5" x2="594.7" y2="210.5" stroke="#c4c4c4" stroke-width="2"/><circle cx="512" cy="210.5" r="3" fill="#fff" stroke="#999" stroke-width="1"/><line x1="651.6" y1="117" x2="651.6" y2="143" stroke="#9a9a9a" stroke-width="1"/><circle cx="651.6" cy="131.7" r="2.8" fill="#fff" stroke="#aaa" stroke-width="1"/><line x1="111.5" y1="160.5" x2="136" y2="160.5" stroke="#9a9a9a" stroke-width="1"/><circle cx="126.4" cy="160.5" r="2.5" fill="#fff" stroke="#aaa" stroke-width="1"/><line x1="112" y1="561.5" x2="348.6" y2="561.5" stroke="#9a9a9a" stroke-width="1"/><line x1="348.6" y1="561.5" x2="348.6" y2="596.5" stroke="#cfcfcf" stroke-width="1"/><line x1="348.6" y1="596.5" x2="348.6" y2="790" stroke="#9a9a9a" stroke-width="1"/><circle cx="348.6" cy="561.5" r="2.6" fill="#fff" stroke="#999" stroke-width="1"/><line x1="348.6" y1="596.5" x2="357.7" y2="596.5" stroke="#9a9a9a" stroke-width="1"/><circle cx="348.6" cy="596.5" r="2.6" fill="#fff" stroke="#999" stroke-width="1"/><line x1="400.7" y1="697" x2="400.7" y2="790" stroke="#9a9a9a" stroke-width="1"/><circle cx="400.7" cy="697" r="2.8" fill="#fff" stroke="#999" stroke-width="1"/><line x1="524.8" y1="764" x2="524.8" y2="790" stroke="#9a9a9a" stroke-width="1"/><circle cx="524.8" cy="775.5" r="2.5" fill="#fff" stroke="#bbb" stroke-width="1"/><line x1="642" y1="531.6" x2="642" y2="790" stroke="#9a9a9a" stroke-width="1"/><line x1="642" y1="531.6" x2="897" y2="531.6" stroke="#9a9a9a" stroke-width="1"/><circle cx="642" cy="531.6" r="2.8" fill="#fff" stroke="#999" stroke-width="1"/><line x1="690" y1="117" x2="690" y2="790" stroke="#b5b5b5" stroke-width="1"/><circle cx="284.5" cy="117" r="2" fill="#222"/><circle cx="512" cy="117" r="2" fill="#222"/><circle cx="651.6" cy="117" r="2" fill="#222"/><circle cx="111.5" cy="160.5" r="2" fill="#222"/><circle cx="112" cy="455.8" r="2" fill="#222"/><circle cx="112" cy="561.5" r="2" fill="#222"/><circle cx="348.6" cy="790" r="2" fill="#222"/><circle cx="400.7" cy="790" r="2" fill="#222"/><circle cx="524.8" cy="790" r="2" fill="#222"/><circle cx="642" cy="790" r="2" fill="#222"/><circle cx="897" cy="531.6" r="2" fill="#222"/></g><line x1="126.4" y1="160" x2="126.4" y2="496" stroke="#d6d6d6" stroke-width="1.3"/><rect x="631" y="117.5" width="15" height="3" fill="#d8d8d8"/><path d="M631.2,126.7 L645.4,126.7" stroke="#262626" stroke-width="2.6" stroke-linecap="round"/><path d="M633,127 L634.5,131" stroke="#262626" stroke-width="2"/><g><rect x="87" y="91.5" width="836.5" height="25.5" fill="#959699"/><rect x="87" y="91.5" width="25.5" height="724" fill="#959699"/><rect x="87" y="790" width="811.5" height="25.5" fill="#959699"/><rect x="898.5" y="785" width="25.5" height="30.5" fill="#959699"/><rect x="896" y="354" width="27.6" height="356" fill="#959699"/><line x1="481" y1="790" x2="668" y2="790" stroke="#333" stroke-width="1.5"/></g><g><g transform="translate(152,54) scale(0.9,1)"><text x="0" y="0" text-anchor="middle" font-size="23.0" fill="#262626" stroke="#262626" stroke-width="0.75">.85</text></g><g transform="translate(327.3,54) scale(0.9,1)"><text x="0" y="0" text-anchor="middle" font-size="23.0" fill="#262626" stroke="#262626" stroke-width="0.75">2.65</text></g><g transform="translate(575.5,54) scale(0.9,1)"><text x="0" y="0" text-anchor="middle" font-size="23.0" fill="#262626" stroke="#262626" stroke-width="0.75">2.35</text></g><g transform="translate(795.5,49.8) scale(0.97,1)"><text x="0" y="0" text-anchor="middle" font-size="21.8" fill="#262626" stroke="#262626" stroke-width="0.75">As per site</text></g><g transform="translate(284.6,874.2) scale(0.9,1)"><text x="0" y="0" text-anchor="middle" font-size="23.0" fill="#262626" stroke="#262626" stroke-width="0.75">3.50</text></g><g transform="translate(575,874) scale(0.9,1)"><text x="0" y="0" text-anchor="middle" font-size="23.0" fill="#262626" stroke="#262626" stroke-width="0.75">2.36</text></g><g transform="translate(796.4,869.6) scale(0.97,1)"><text x="0" y="0" text-anchor="middle" font-size="21.8" fill="#262626" stroke="#262626" stroke-width="0.75">As per site</text></g><g transform="translate(27.0,305.5) rotate(-90) scale(0.9375000000000001,1)"><text x="0" y="0" text-anchor="middle" font-size="22.08" fill="#262626" stroke="#262626" stroke-width="0.75">3.81</text></g><g transform="translate(27.4,644) rotate(-90) scale(0.9375000000000001,1)"><text x="0" y="0" text-anchor="middle" font-size="22.08" fill="#262626" stroke="#262626" stroke-width="0.75">2.94</text></g><g transform="translate(128.0,154.2) scale(0.95,1)"><text x="0" y="0" text-anchor="middle" font-size="21" fill="#262626" stroke="#262626" stroke-width="0.75">5</text></g><path d="M115.6,153.2 L115.6,142.5 L113.8,143.5 M118.4,153.2 L118.4,139.8 L116.5,139.8" fill="none" stroke="#a8a8a8" stroke-width="0.9"/><g transform="translate(207.4,449.7) scale(0.95,1)"><text x="0" y="0" text-anchor="middle" font-size="21.8" fill="#262626" stroke="#262626" stroke-width="0.75">75</text></g><path d="M184,449.5 L184,435.2 Q183,438.5 180.5,439.6" fill="none" stroke="#262626" stroke-width="2.4"/><g transform="translate(401,450.6) scale(0.93,1)"><text x="0" y="0" text-anchor="middle" font-size="22.3" fill="#262626" stroke="#262626" stroke-width="0.75">2.35</text></g><g transform="translate(230,556.8) scale(0.885,1)"><text x="0" y="0" text-anchor="middle" font-size="23.4" fill="#262626" stroke="#262626" stroke-width="0.75">2.40</text></g><g transform="translate(779.7,525.9) scale(0.955,1)"><text x="0" y="0" text-anchor="middle" font-size="21.6" fill="#262626" stroke="#262626" stroke-width="0.75">2.37</text></g><g transform="translate(278.6,286.3) rotate(-90) scale(0.9375000000000001,1)"><text x="0" y="0" text-anchor="middle" font-size="22.08" fill="#262626" stroke="#262626" stroke-width="0.75">3.39</text></g><g transform="translate(507,164.5) rotate(-90) scale(0.9375000000000001,1)"><text x="0" y="0" text-anchor="middle" font-size="22.08" fill="#262626" stroke="#262626" stroke-width="0.75">.94</text></g><g transform="translate(343,694.7) rotate(-90) scale(0.9375000000000001,1)"><text x="0" y="0" text-anchor="middle" font-size="22.08" fill="#262626" stroke="#262626" stroke-width="0.75">1.94</text></g><g transform="translate(394.5,742.5) rotate(-90) scale(0.9375000000000001,1)"><text x="0" y="0" text-anchor="middle" font-size="22.08" fill="#262626" stroke="#262626" stroke-width="0.75">94</text></g><g transform="translate(519,778.3) rotate(-90) scale(0.9375000000000001,1)"><text x="0" y="0" text-anchor="middle" font-size="22.08" fill="#262626" stroke="#262626" stroke-width="0.75">15</text></g><g transform="translate(635.9,661.5) rotate(-90) scale(0.9375000000000001,1)"><text x="0" y="0" text-anchor="middle" font-size="22.08" fill="#262626" stroke="#262626" stroke-width="0.75">2.59</text></g></g></svg></body></html>
